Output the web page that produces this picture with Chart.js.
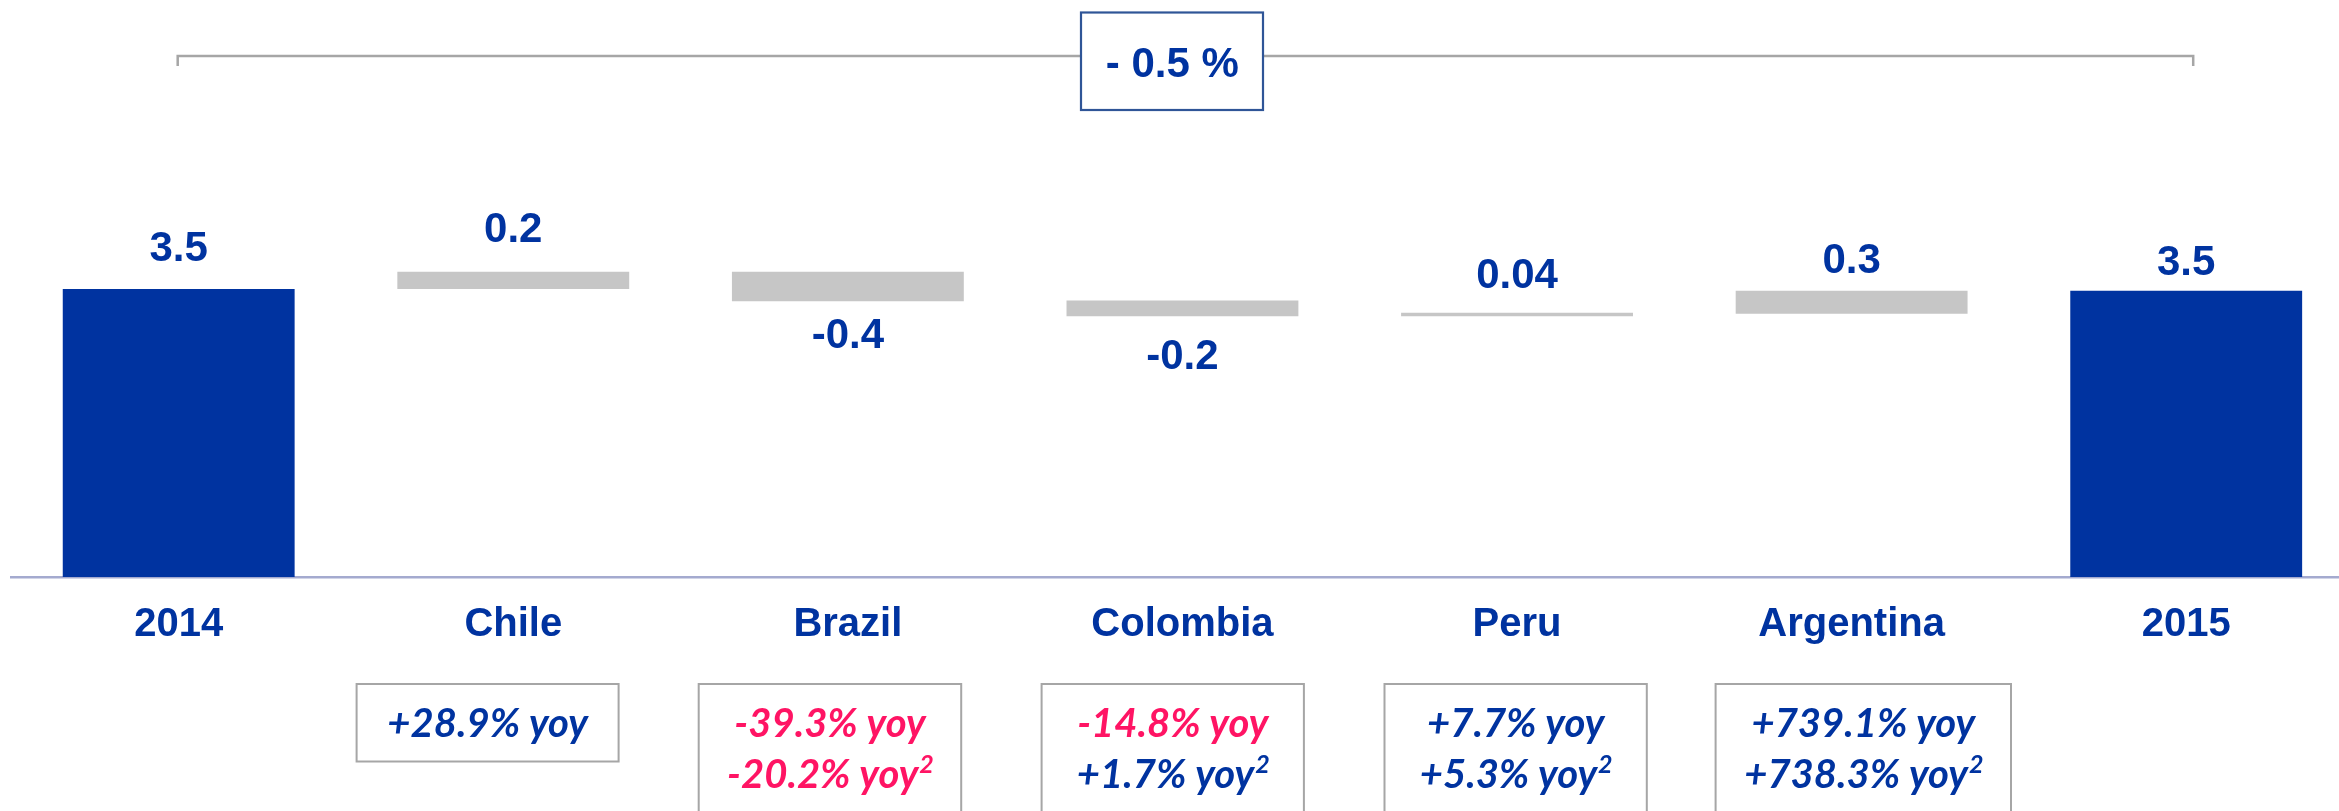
<!DOCTYPE html>
<html><head><meta charset="utf-8">
<script src="https://cdn.jsdelivr.net/npm/chart.js@4/dist/chart.umd.min.js"></script>
<style>
html,body{margin:0;padding:0;background:#fff;overflow:hidden;}
#wrap{width:2339px;height:811px;overflow:hidden;position:relative;background:#fff;}
canvas{display:block;}
</style></head><body>
<div id="wrap"><canvas id="c" width="2360" height="811"></canvas></div>
<script>
// ---- data ----
const categories = ['2014','Chile','Brazil','Colombia','Peru','Argentina','2015'];
const barStart   = [0,    3.50, 3.71, 3.36, 3.17, 3.20, 0];
const barEnd     = [3.50, 3.71, 3.35, 3.17, 3.21, 3.48, 3.48];
const valueLabels = ['3.5','0.2','-0.4','-0.2','0.04','0.3','3.5'];
const totalChange = '- 0.5 %';
const yoyLine1 = [null,'+28.9% yoy','-39.3% yoy','-14.8% yoy','+7.7% yoy','+739.1% yoy',null];
const yoyLine2 = [null,null,'-20.2% yoy','+1.7% yoy','+5.3% yoy','+738.3% yoy',null];
const yoyLine2Note = '2';

// ---- styles / layout ----
const BLUE = '#0033A0', GREY = '#C6C6C6', PINK = '#FF1464', BOXGREY = '#A6A6A6';
const labelGap = [28, 30, 17, 23, 25, 18, 16];
const noteBoxes = [null,[356.6,262],[698.7,262.5],[1041.6,262.3],[1384.5,262.3],[1715.6,295.4],null];

const overlay = {
  id: 'overlay',
  afterDatasetsDraw(chart) {
    const ctx = chart.ctx;
    const meta = chart.getDatasetMeta(0);
    ctx.save();
    // value labels
    ctx.font = 'bold 42px "Liberation Sans", Arial, sans-serif';
    ctx.fillStyle = BLUE; ctx.textAlign = 'center'; ctx.textBaseline = 'alphabetic';
    meta.data.forEach((bar, i) => {
      const top = Math.min(bar.y, bar.base), bottom = Math.max(bar.y, bar.base);
      if (barEnd[i] >= barStart[i]) {
        ctx.fillText(valueLabels[i], bar.x, top - labelGap[i]);
      } else {
        ctx.fillText(valueLabels[i], bar.x, bottom + labelGap[i] + 30);
      }
    });
    // bracket
    const x0 = meta.data[0].x - 1, x1 = meta.data[6].x + 7;
    ctx.strokeStyle = BOXGREY; ctx.lineWidth = 2.5;
    ctx.beginPath();
    ctx.moveTo(x0, 66); ctx.lineTo(x0, 56); ctx.lineTo(x1, 56); ctx.lineTo(x1, 66);
    ctx.stroke();
    // total change box
    ctx.fillStyle = '#fff';
    ctx.fillRect(1081, 12.5, 182, 97.5);
    ctx.strokeStyle = '#2F5597'; ctx.lineWidth = 2.2;
    ctx.strokeRect(1081, 12.5, 182, 97.5);
    ctx.fillStyle = BLUE;
    ctx.font = 'bold 42px "Liberation Sans", Arial, sans-serif';
    ctx.fillText(totalChange, 1172.3, 77.3);
    // yoy note boxes
    const noteFont = 'italic bold 40px Lato, "Open Sans", sans-serif';
    const supFont = 'italic bold 25px Lato, "Open Sans", sans-serif';
    noteBoxes.forEach((b, i) => {
      if (!b) return;
      const [bx, bw] = b;
      const bh = yoyLine2[i] ? 150 : 77.5;
      ctx.strokeStyle = BOXGREY; ctx.lineWidth = 2;
      ctx.strokeRect(bx, 684, bw, bh);
      const cx = bx + bw / 2;
      ctx.textAlign = 'center';
      ctx.font = noteFont;
      ctx.fillStyle = yoyLine1[i].startsWith('-') ? PINK : BLUE;
      ctx.fillText(yoyLine1[i], cx, 737);
      if (yoyLine2[i]) {
        ctx.font = noteFont;
        const w1 = ctx.measureText(yoyLine2[i]).width;
        ctx.font = supFont;
        const w2 = ctx.measureText(yoyLine2Note).width;
        const sx = cx - (w1 + w2) / 2;
        ctx.textAlign = 'left';
        ctx.fillStyle = yoyLine2[i].startsWith('-') ? PINK : BLUE;
        ctx.font = noteFont;
        ctx.fillText(yoyLine2[i], sx, 788);
        ctx.font = supFont;
        ctx.fillText(yoyLine2Note, sx + w1 + 1, 773);
      }
    });
    ctx.restore();
  }
};

new Chart(document.getElementById('c'), {
  type: 'bar',
  data: {
    labels: categories,
    datasets: [{
      data: categories.map((c, i) => [barStart[i], barEnd[i]]),
      backgroundColor: categories.map((c, i) => barStart[i] === 0 ? BLUE : GREY),
      borderWidth: 0,
      barPercentage: 0.693,
      categoryPercentage: 1.0
    }]
  },
  options: {
    responsive: false,
    animation: false,
    devicePixelRatio: 1,
    layout: { padding: { left: 11.4, right: 6.5, top: 1, bottom: 0 } },
    plugins: { legend: { display: false }, tooltip: { enabled: false } },
    scales: {
      x: {
        grid: { display: false, drawTicks: false },
        border: { display: true, color: '#A4AACF', width: 2.5 },
        ticks: {
          color: BLUE, padding: 24, maxRotation: 0, autoSkip: false,
          font: { family: '"Liberation Sans", Arial, sans-serif', weight: 'bold', size: 40 }
        },
        afterFit: (scale) => { scale.height = 234; }
      },
      y: { display: false, min: 0, max: 7 }
    }
  },
  plugins: [overlay]
});
</script>
</body></html>
